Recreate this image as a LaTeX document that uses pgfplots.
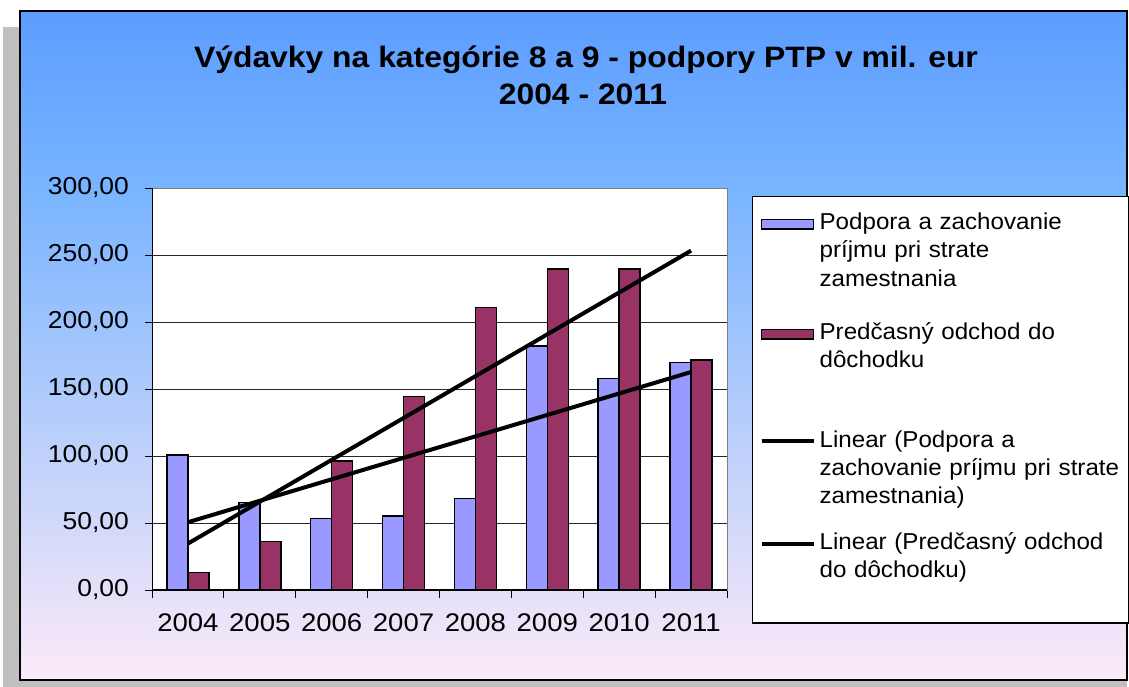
\documentclass[border=0pt]{standalone}
\usepackage{fontspec}
\setmainfont{Liberation Sans}[FakeStretch=1.08]
\newfontfamily\legfont{Liberation Sans}[FakeStretch=1.05]
\usepackage{pgfplots}
\pgfplotsset{compat=1.18}
\definecolor{barblue}{HTML}{9999FF}
\definecolor{barmaroon}{HTML}{993366}
\definecolor{bgtop}{HTML}{5C9DFF}
\definecolor{bgmid}{HTML}{78B4FF}
\definecolor{bgbot}{HTML}{FCEAF8}
\definecolor{shadowgray}{HTML}{C0C0C0}
\begin{document}
\begin{tikzpicture}
\useasboundingbox (0pt,0pt) rectangle (1129pt,-687pt);
\fill[shadowgray] (3pt,-27pt) rectangle (1127pt,-687pt);
\shade[top color=bgtop, bottom color=bgmid] (20pt,-11pt) rectangle (1127pt,-188pt);
\shade[top color=bgmid, bottom color=bgbot] (20pt,-188pt) rectangle (1127pt,-680pt);
\draw[black, line width=1.5pt] (20pt,-11pt) rectangle (1127pt,-680pt);
\node[anchor=base, inner sep=0pt, font=\fontsize{29.5}{36}\selectfont\bfseries] at (586pt,-68pt) {Výdavky na kategórie 8 a 9 - podpory PTP v mil. eur};
\node[anchor=base, inner sep=0pt, font=\fontsize{29.5}{36}\selectfont\bfseries] at (583pt,-105pt) {2004 - 2011};
\begin{axis}[
  at={(152pt,-590pt)}, anchor=south west,
  width=575pt, height=402pt, scale only axis,
  xmin=0.5, xmax=8.5, ymin=0, ymax=300,
  axis background/.style={fill=white},
  axis line style={draw=gray, line width=1pt},
  ymajorgrids, grid style={black!85, line width=1pt},
  ytick={0,50,...,300},
  yticklabels={{0,00},{50,00},{100,00},{150,00},{200,00},{250,00},{300,00}},
  xtick={1,...,8},
  xticklabels={2004,2005,2006,2007,2008,2009,2010,2011},
  minor xtick={0.5,1.5,...,8.5},
  xtick pos=bottom, ytick pos=left,
  tick align=outside,
  major tick length=7pt,
  minor tick length=8pt,
  major x tick style={draw=none},
  minor x tick style={black, line width=1pt},
  major y tick style={black, line width=1pt},
  xticklabel style={anchor=north, inner sep=0pt, yshift=-16pt, font=\fontsize{25.5}{30}\selectfont},
  yticklabel style={anchor=east, inner sep=0pt, xshift=-16pt, font=\fontsize{24.5}{30}\selectfont},
  legend style={
    at={(1.04348,0.98010)}, anchor=north west,
    draw=black, line width=1.2pt, fill=white,
    inner xsep=7pt, inner ysep=15pt,
    row sep=20pt, column sep=4pt,
    cells={anchor=base west},
    nodes={inner sep=0pt, text depth=, text height=, text width=302pt, align=left, font=\legfont\fontsize{23}{28.3}\selectfont},
  },
]
\addplot[ybar, bar width=21pt, bar shift=-10.5pt, fill=barblue, draw=black, line width=1.5pt,
  legend image code/.code={\draw[fill=barblue, draw=black, line width=1.5pt] (0pt,0.5pt) rectangle (52pt,10pt);}]
  coordinates {(1,100.7) (2,65.4) (3,53.5) (4,55.2) (5,68.4) (6,182.1) (7,158.0) (8,169.7)};
\addlegendentry{\rule{0pt}{18pt}Podpora a zachovanie\\príjmu pri strate\\zamestnania\rule[-15.1pt]{0pt}{0pt}}
\addplot[ybar, bar width=21pt, bar shift=10.5pt, fill=barmaroon, draw=black, line width=1.5pt,
  legend image code/.code={\draw[fill=barmaroon, draw=black, line width=1.5pt] (0pt,0.5pt) rectangle (52pt,10pt);}]
  coordinates {(1,13.2) (2,36.1) (3,96.3) (4,144.3) (5,211.0) (6,239.6) (7,239.6) (8,171.6)};
\addlegendentry{\rule{0pt}{18pt}Predčasný odchod do\\dôchodku\rule[-41.7pt]{0pt}{0pt}}
\addplot[sharp plot, no marks, black, line width=4pt,
  legend image code/.code={\draw[black, line width=4pt] (0pt,6pt) -- (52pt,6pt);}]
  coordinates {(1,50.58) (8,162.67)};
\addlegendentry{\rule{0pt}{18pt}Linear (Podpora a\\zachovanie príjmu pri strate\\zamestnania)\rule[-7.7pt]{0pt}{0pt}}
\addplot[sharp plot, no marks, black, line width=4pt,
  legend image code/.code={\draw[black, line width=4pt] (0pt,6pt) -- (52pt,6pt);}]
  coordinates {(1,34.67) (8,253.25)};
\addlegendentry{\rule{0pt}{18pt}Linear (Predčasný odchod\\do dôchodku)\rule[-30pt]{0pt}{0pt}}
\draw[black, line width=1.5pt] (axis cs:0.5,300) -- (axis cs:0.5,0) -- (axis cs:8.5,0);
\end{axis}
\end{tikzpicture}
\end{document}
